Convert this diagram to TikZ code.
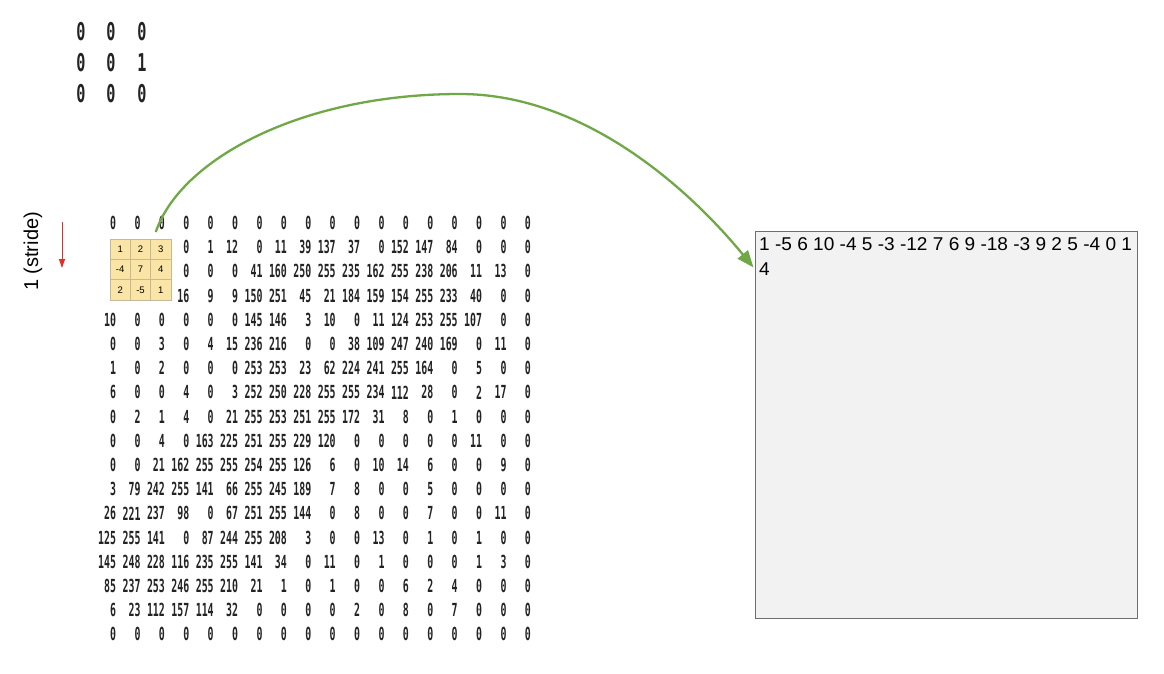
\documentclass[tikz,border=0pt]{standalone}
\usepackage{fontspec}
\setmainfont{Liberation Sans}
\newfontfamily\matfont[FakeStretch=0.55]{DejaVu Sans Mono Bold}
\newfontfamily\topfont[FakeStretch=0.62]{DejaVu Sans Mono Bold}
\newfontfamily\boxfont[FakeStretch=1.03]{Liberation Sans}
\usetikzlibrary{arrows.meta,calc}
\definecolor{kfill}{RGB}{250,229,166}
\definecolor{kline}{RGB}{195,185,155}
\definecolor{cgreen}{RGB}{112,168,72}
\definecolor{cred}{RGB}{228,45,40}
\definecolor{boxfill}{RGB}{242,242,242}
\definecolor{boxline}{RGB}{110,110,110}
\definecolor{digit}{RGB}{35,35,35}
\begin{document}
\begin{tikzpicture}[x=1pt,y=-1pt,
  matnum/.style={anchor=east,inner sep=0pt,font=\matfont\fontsize{18}{18}\selectfont,text=digit},
  topnum/.style={inner sep=0pt,font=\topfont\fontsize{24.5}{25}\selectfont,text=digit},
  kcell/.style={draw=kline,fill=kfill,line width=0.6pt,minimum size=20.33pt,inner sep=0pt,font=\fontsize{9.5}{10}\selectfont},
  outbox/.style={draw=boxline,fill=boxfill,line width=1pt,minimum width=382pt,minimum height=387pt,inner sep=0pt},
  outtxt/.style={anchor=north west,inner sep=0pt,align=left,font=\boxfont\fontsize{18.5}{25}\selectfont},
  stridelbl/.style={rotate=90,inner sep=0pt,font=\fontsize{20}{22}\selectfont},
  redarrow/.style={draw=cred,line width=1pt,-{Triangle[length=9pt,width=6pt]}},
  greenarrow/.style={draw=cgreen,line width=2.3pt,-{Triangle[length=17pt,width=13pt]}}
]
\useasboundingbox (0,0) rectangle (1164,674);
\fill[white] (0,0) rectangle (1164,674);

% small 3x3 matrix
\foreach \vals [count=\r] in {{0,0,0},{0,0,1},{0,0,0}} {
  \foreach \v [count=\c] in \vals {
    \pgfmathsetmacro{\xx}{{81,111,142}[\c-1]}
    \pgfmathsetmacro{\yy}{{32,63,94}[\r-1]}
    \node[topnum] (t-\r-\c) at (\xx,\yy) {\v};
  }
}

% big matrix
\foreach \s/\vals [count=\r] in {
 1/{0,0,0,0,0,0,0,0,0,0,0,0,0,0,0,0,0,0},
 4/{0,1,12,0,11,39,137,37,0,152,147,84,0,0,0},
 4/{0,0,0,41,160,250,255,235,162,255,238,206,11,13,0},
 4/{16,9,9,150,251,45,21,184,159,154,255,233,40,0,0},
 1/{10,0,0,0,0,0,145,146,3,10,0,11,124,253,255,107,0,0},
 1/{0,0,3,0,4,15,236,216,0,0,38,109,247,240,169,0,11,0},
 1/{1,0,2,0,0,0,253,253,23,62,224,241,255,164,0,5,0,0},
 1/{6,0,0,4,0,3,252,250,228,255,255,234,112,28,0,2,17,0},
 1/{0,2,1,4,0,21,255,253,251,255,172,31,8,0,1,0,0,0},
 1/{0,0,4,0,163,225,251,255,229,120,0,0,0,0,0,11,0,0},
 1/{0,0,21,162,255,255,254,255,126,6,0,10,14,6,0,0,9,0},
 1/{3,79,242,255,141,66,255,245,189,7,8,0,0,5,0,0,0,0},
 1/{26,221,237,98,0,67,251,255,144,0,8,0,0,7,0,0,11,0},
 1/{125,255,141,0,87,244,255,208,3,0,0,13,0,1,0,1,0,0},
 1/{145,248,228,116,235,255,141,34,0,11,0,1,0,0,0,1,3,0},
 1/{85,237,253,246,255,210,21,1,0,1,0,0,6,2,4,0,0,0},
 1/{6,23,112,157,114,32,0,0,0,0,2,0,8,0,7,0,0,0},
 1/{0,0,0,0,0,0,0,0,0,0,0,0,0,0,0,0,0,0}} {
  \foreach \v [count=\c from \s] in \vals {
    \node[matnum] (m-\r-\c) at ({116.3+24.4*(\c-1)},{223+24.2*(\r-1)}) {\v};
  }
}

% kernel
\foreach \vals [count=\r] in {{1,2,3},{-4,7,4},{2,-5,1}} {
  \foreach \v [count=\c] in \vals {
    \node[kcell] (k-\r-\c) at ({110+20.33*(\c-0.5)},{239+20.33*(\r-0.5)}) {\v};
  }
}

% stride label and arrow
\node[stridelbl] (stride) at (33,251.5) {1 (stride)};
\coordinate (r1) at (62,222);
\coordinate (r2) at (62,268);
\draw[redarrow] (r1) -- (r2);

% output box
\node[outbox,anchor=north west] (out) at (755,231) {};
\node[outtxt] (outtext) at (759,237.5) {1 -5 6 10 -4 5 -3 -12 7 6 9 -18 -3 9 2 5 -4 0 1\\4};

% green connector
\coordinate (cstart) at (155.8,232);
\coordinate (cend) at ($(out.north west)+(-1.5,36.5)$);
\draw[greenarrow] (cstart) .. controls (180,160) and (300,94) .. (460,94)
  .. controls (585,94) and (690,190) .. (cend);
\end{tikzpicture}
\end{document}
